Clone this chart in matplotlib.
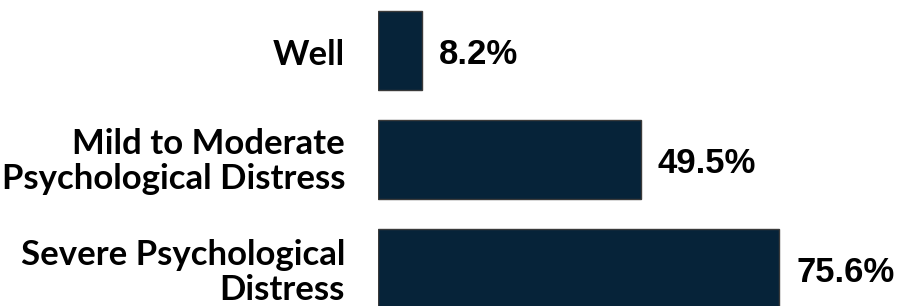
import matplotlib
matplotlib.use("Agg")
import matplotlib.pyplot as plt

categories = ["Well", "Mild to Moderate\nPsychological Distress", "Severe Psychological\nDistress"]
values = [8.2, 49.5, 75.6]
value_labels = ["8.2%", "49.5%", "75.6%"]

bar_color = "#062339"
edge_color = "#3a3a3a"
# small per-label vertical nudges (pixels), the source text boxes are not centred
label_dy = [-5, -2, -4]

fig = plt.figure(figsize=(8.97, 3.06), dpi=100)
ax = fig.add_axes([378 / 897, 0, 1 - 378 / 897, 1])

y = list(range(len(categories)))
ax.barh(y, values, height=0.725, color=bar_color, edgecolor=edge_color, linewidth=1)

ax.set_xlim(0, (897 - 378) / 5.31)
ax.set_ylim((306 - 50.5) / 109, -50.5 / 109)
ax.set_yticks([])
ax.set_xticks([])
for side in ax.spines.values():
    side.set_visible(False)

for yi, cat, dy in zip(y, categories, label_dy):
    ax.annotate(cat, (0, yi), xycoords=("axes fraction", "data"),
                xytext=(-33, dy), textcoords="offset pixels",
                ha="right", va="center", multialignment="right",
                fontfamily="Lato", fontweight="bold", fontsize=25,
                linespacing=1.12, color="black")

for yi, v, lab in zip(y, values, value_labels):
    ax.annotate(lab, (v, yi), xytext=(17, -4), textcoords="offset pixels",
                ha="left", va="center", fontfamily="Liberation Sans",
                fontweight="bold", fontsize=25, color="black")

fig.savefig("out.png", dpi=100)
